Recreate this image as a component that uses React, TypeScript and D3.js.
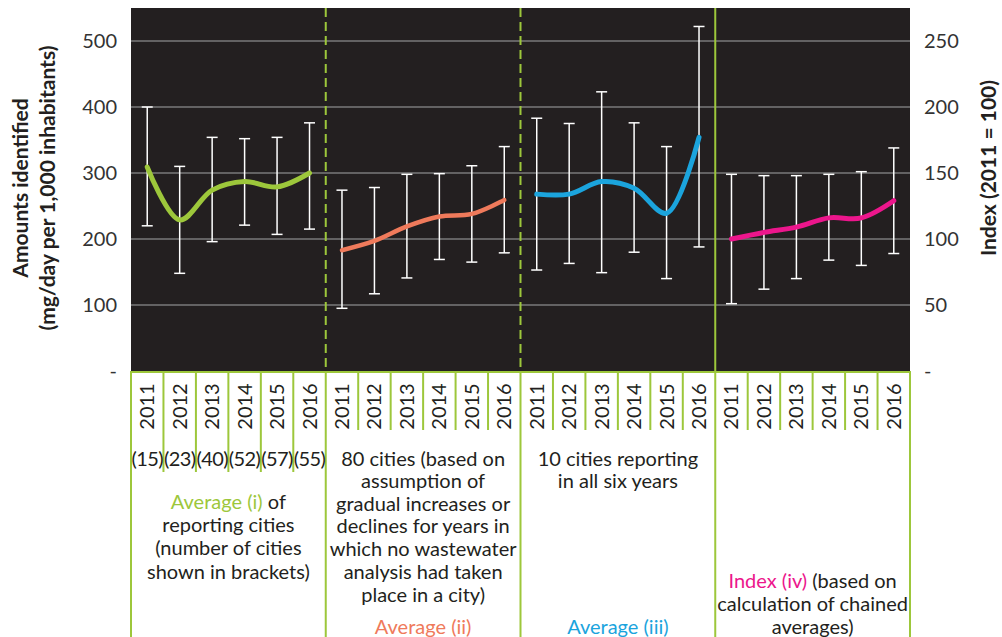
import { useRef, useEffect } from 'react';
import * as d3 from 'd3';

// years repeated per group
const years = ['2011', '2012', '2013', '2014', '2015', '2016'];
const groups = ['avg1', 'avg2', 'avg3', 'index'];
const groupColors = ['#9dc73b', '#ef7a5b', '#1ba4dd', '#ec168c'];

// values (left axis for first three, right axis for index)
const avg1 = [309, 229, 274, 287, 279, 300];
const avg1Low = [220, 148, 196, 221, 207, 215];
const avg1High = [400, 310, 354, 352, 354, 376];

const avg2 = [183, 197, 219, 234, 238, 259];
const avg2Low = [95, 117, 141, 169, 165, 179];
const avg2High = [274, 278, 298, 299, 311, 340];

const avg3 = [268, 268, 287, 277, 239, 354];
const avg3Low = [153, 163, 149, 180, 140, 188];
const avg3High = [383, 375, 423, 376, 340, 522];

const indexVals = [100, 105, 109, 116, 116, 129];
const indexLow = [51, 62, 70, 84, 80, 89];
const indexHigh = [149, 148, 148, 149, 151, 169];

const citiesCount = ['(15)', '(23)', '(40)', '(52)', '(57)', '(55)'];
const leftTicks = [0, 100, 200, 300, 400, 500];
const rightTicks = [0, 50, 100, 150, 200, 250];

const App = () => {
  const svgRef = useRef<SVGSVGElement>(null);
  const width = 1002;
  const height = 637;

  useEffect(() => {
    if (!svgRef.current) return;
    const svg = d3.select(svgRef.current);
    svg.selectAll('*').remove();

    const left = 131, right = 910, top = 8, bottom = 371;
    const font = 'Lato, "Open Sans", sans-serif';
    const dark = '#231f20';
    const green = '#9dc73b';
    const fs = 20;

    const yL = d3.scaleLinear().domain([0, 550]).range([bottom, top]);
    const yR = d3.scaleLinear().domain([0, 275]).range([bottom, top]);

    const cols = groups.flatMap(g => years.map(y => `${g}-${y}`));
    const x = d3.scaleBand().domain(cols).range([left, right]);
    const cx = (g: string, y: string) => (x(`${g}-${y}`) as number) + x.bandwidth() / 2;

    // plot background
    svg.append('rect')
      .attr('x', left).attr('y', top)
      .attr('width', right - left).attr('height', bottom - top)
      .attr('fill', dark);

    // gridlines
    svg.selectAll('.grid')
      .data(leftTicks.filter(d => d > 0))
      .enter()
      .append('line')
      .attr('x1', left).attr('x2', right)
      .attr('y1', d => yL(d)).attr('y2', d => yL(d))
      .attr('stroke', '#7a7a7a')
      .attr('stroke-width', 1.5);

    // left tick labels
    svg.selectAll('.ltick')
      .data(leftTicks)
      .enter()
      .append('text')
      .attr('x', 117)
      .attr('y', d => yL(d))
      .attr('dy', '0.35em')
      .attr('text-anchor', 'end')
      .attr('font-family', font)
      .attr('font-size', fs)
      .attr('fill', '#333')
      .text(d => (d === 0 ? '-' : String(d)));

    // right tick labels
    svg.selectAll('.rtick')
      .data(rightTicks)
      .enter()
      .append('text')
      .attr('x', 924)
      .attr('y', d => yR(d))
      .attr('dy', '0.35em')
      .attr('text-anchor', 'start')
      .attr('font-family', font)
      .attr('font-size', fs)
      .attr('fill', '#333')
      .text(d => (d === 0 ? '-' : String(d)));

    // axis titles
    const lt = svg.append('text')
      .attr('transform', 'translate(0,188) rotate(-90)')
      .attr('text-anchor', 'middle')
      .attr('font-family', font)
      .attr('font-size', 21)
      .attr('font-weight', 'bold')
      .attr('fill', dark);
    lt.append('tspan').attr('x', 0).attr('y', 28).text('Amounts identified');
    lt.append('tspan').attr('x', 0).attr('y', 55).text('(mg/day per 1,000 inhabitants)');

    svg.append('text')
      .attr('transform', 'translate(996,168) rotate(-90)')
      .attr('text-anchor', 'middle')
      .attr('font-family', font)
      .attr('font-size', 21)
      .attr('font-weight', 'bold')
      .attr('fill', dark)
      .text('Index (2011 = 100)');

    // group separators in plot
    const bounds = groups.map(g => x(`${g}-2011`) as number);
    [1, 2].forEach(i => {
      svg.append('line')
        .attr('x1', bounds[i]).attr('x2', bounds[i])
        .attr('y1', top).attr('y2', bottom)
        .attr('stroke', green)
        .attr('stroke-width', 2)
        .attr('stroke-dasharray', '9,5');
    });
    svg.append('line')
      .attr('x1', bounds[3]).attr('x2', bounds[3])
      .attr('y1', top).attr('y2', bottom)
      .attr('stroke', green)
      .attr('stroke-width', 2);

    // series
    const series = [
      { g: 'avg1', v: avg1, lo: avg1Low, hi: avg1High, y: yL, w: 5 },
      { g: 'avg2', v: avg2, lo: avg2Low, hi: avg2High, y: yL, w: 4.5 },
      { g: 'avg3', v: avg3, lo: avg3Low, hi: avg3High, y: yL, w: 5 },
      { g: 'index', v: indexVals, lo: indexLow, hi: indexHigh, y: yR, w: 5 },
    ];

    series.forEach((s, si) => {
      const eb = svg.append('g');
      years.forEach((yr, i) => {
        const px = cx(s.g, yr);
        eb.append('line')
          .attr('x1', px).attr('x2', px)
          .attr('y1', s.y(s.lo[i])).attr('y2', s.y(s.hi[i]))
          .attr('stroke', '#fff').attr('stroke-width', 1.5);
        [s.lo[i], s.hi[i]].forEach(v => {
          eb.append('line')
            .attr('x1', px - 5.5).attr('x2', px + 5.5)
            .attr('y1', s.y(v)).attr('y2', s.y(v))
            .attr('stroke', '#fff').attr('stroke-width', 1.5);
        });
      });

      const line = d3.line<number>()
        .x((_, i) => cx(s.g, years[i]))
        .y(d => s.y(d))
        .curve(d3.curveCatmullRom.alpha(0.5));

      svg.append('path')
        .datum(s.v)
        .attr('d', line)
        .attr('fill', 'none')
        .attr('stroke', groupColors[si])
        .attr('stroke-width', s.w)
        .attr('stroke-linecap', 'round');
    });

    // table lines
    const tbl = svg.append('g');
    tbl.append('line')
      .attr('x1', left - 1).attr('x2', right + 1)
      .attr('y1', bottom + 1).attr('y2', bottom + 1)
      .attr('stroke', green).attr('stroke-width', 2);

    groups.forEach((g, gi) => {
      years.forEach((yr, i) => {
        const bx = x(`${g}-${yr}`) as number;
        if (i === 0) {
          tbl.append('line')
            .attr('x1', bx).attr('x2', bx)
            .attr('y1', bottom).attr('y2', height)
            .attr('stroke', green).attr('stroke-width', 2);
        } else {
          tbl.append('line')
            .attr('x1', bx).attr('x2', bx)
            .attr('y1', bottom).attr('y2', gi === 0 ? 472 : 430)
            .attr('stroke', green).attr('stroke-width', 2);
        }
        tbl.append('text')
          .attr('transform', `translate(${cx(g, yr)},406.5) rotate(-90)`)
          .attr('text-anchor', 'middle')
          .attr('dy', '0.35em')
          .attr('font-family', font)
          .attr('font-size', fs)
          .attr('fill', dark)
          .text(yr);
      });
    });
    tbl.append('line')
      .attr('x1', right).attr('x2', right)
      .attr('y1', bottom).attr('y2', height)
      .attr('stroke', green).attr('stroke-width', 2);

    // city counts
    citiesCount.forEach((c, i) => {
      tbl.append('text')
        .attr('x', cx('avg1', years[i]))
        .attr('y', 466)
        .attr('text-anchor', 'middle')
        .attr('font-family', font)
        .attr('font-size', fs)
        .attr('letter-spacing', -0.6)
        .attr('fill', dark)
        .text(c);
    });

    const gc = (gi: number) => (bounds[gi] + (gi < 3 ? bounds[gi + 1] : right)) / 2;
    const addLines = (gi: number, lines: { parts: [string, string][]; y: number }[]) => {
      lines.forEach(l => {
        const t = tbl.append('text')
          .attr('x', gc(gi))
          .attr('y', l.y + 7)
          .attr('text-anchor', 'middle')
          .attr('font-family', font)
          .attr('font-size', fs)
          .attr('fill', dark);
        l.parts.forEach(([txt, col]) => t.append('tspan').attr('fill', col).text(txt));
      });
    };

    addLines(0, [
      { parts: [['Average (i)', groupColors[0]], [' of', dark]], y: 501.5 },
      { parts: [['reporting cities', dark]], y: 525 },
      { parts: [['(number of cities', dark]], y: 548 },
      { parts: [['shown in brackets)', dark]], y: 571.5 },
    ]);
    addLines(1, [
      { parts: [['80 cities (based on', dark]], y: 459 },
      { parts: [['assumption of', dark]], y: 481 },
      { parts: [['gradual increases or', dark]], y: 503.5 },
      { parts: [['declines for years in', dark]], y: 526 },
      { parts: [['which no wastewater', dark]], y: 548.5 },
      { parts: [['analysis had taken', dark]], y: 572 },
      { parts: [['place in a city)', dark]], y: 595 },
      { parts: [['Average (ii)', groupColors[1]]], y: 626.5 },
    ]);
    addLines(2, [
      { parts: [['10 cities reporting', dark]], y: 459 },
      { parts: [['in all six years', dark]], y: 481 },
      { parts: [['Average (iii)', groupColors[2]]], y: 626.5 },
    ]);
    addLines(3, [
      { parts: [['Index (iv)', groupColors[3]], [' (based on', dark]], y: 580.5 },
      { parts: [['calculation of chained', dark]], y: 604 },
      { parts: [['averages)', dark]], y: 626.5 },
    ]);
  }, []);

  return (
    <svg
      ref={svgRef}
      width={width}
      height={height}
      style={{ position: 'absolute', left: 0, top: 0, background: '#fff' }}
    />
  );
};

export default App;
